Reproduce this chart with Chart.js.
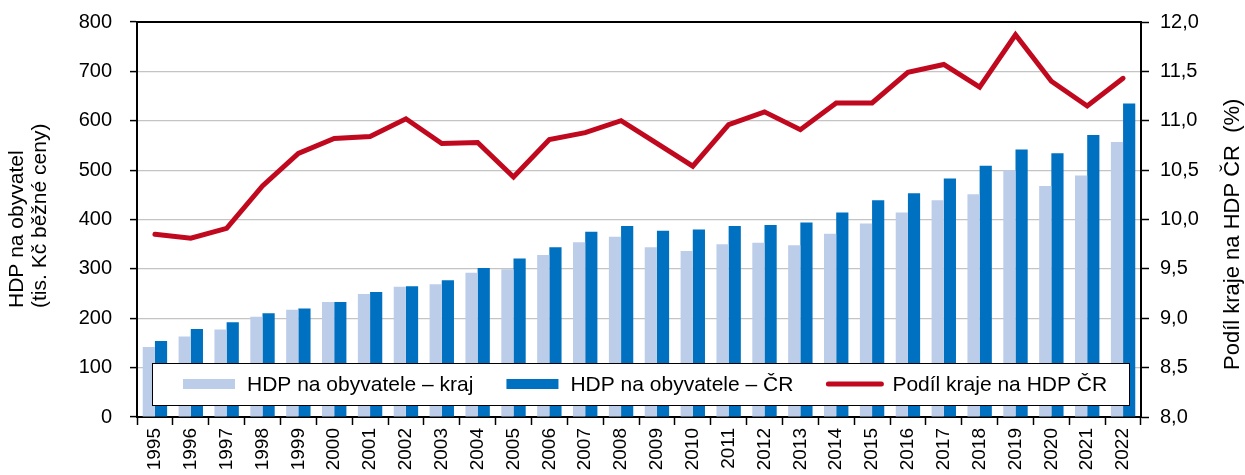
<!DOCTYPE html>
<html lang="cs">
<head>
<meta charset="utf-8">
<script src="https://cdn.jsdelivr.net/npm/chart.js@4.4.1/dist/chart.umd.min.js"></script>
<style>
  html, body { margin: 0; padding: 0; background: #fff; }
  #wrap { width: 1245px; height: 475px; }
</style>
</head>
<body>
<div id="wrap"><canvas id="chart" width="1245" height="475"></canvas></div>
<script>
const years = ['1995','1996','1997','1998','1999','2000','2001','2002','2003','2004',
  '2005','2006','2007','2008','2009','2010','2011','2012','2013','2014',
  '2015','2016','2017','2018','2019','2020','2021','2022'];

// HDP na obyvatele (tis. Kč, běžné ceny)
const hdpKraj = [142, 163, 177, 203, 217, 233, 249, 264, 269, 292,
  299, 328, 354, 365, 344, 336, 350, 353, 348, 371,
  392, 414, 439, 451, 500, 468, 489, 557];
const hdpCR = [154, 178, 192, 210, 220, 233, 253, 265, 277, 302,
  321, 344, 375, 387, 377, 380, 387, 389, 394, 414,
  439, 453, 483, 509, 542, 534, 571, 635];

// podíl kraje na HDP ČR (%)
const podil = [9.85, 9.81, 9.91, 10.34, 10.67, 10.82, 10.84, 11.02, 10.77, 10.78,
  10.43, 10.81, 10.88, 11.00, 10.77, 10.54, 10.96, 11.09, 10.91, 11.18,
  11.18, 11.49, 11.57, 11.34, 11.87, 11.40, 11.15, 11.43];

const leftTitle = ['HDP na obyvatel', '(tis. Kč běžné ceny)'];
const rightTitle = 'Podíl kraje na HDP ČR  (%)';

const FONT = '"Liberation Sans", Arial, sans-serif';
const LIGHT = '#bccde9';
const BLUE = '#0070c0';
const RED = '#c0091e';

// top frame line, axis titles and the legend box inside the plot area
const boxPlugin = {
  id: 'boxPlugin',
  afterDraw(chart) {
    const ctx = chart.ctx;
    const a = chart.chartArea;
    ctx.save();
    ctx.strokeStyle = '#000';
    ctx.lineWidth = 2;
    ctx.beginPath();
    ctx.moveTo(a.left, a.top);
    ctx.lineTo(a.right, a.top);
    ctx.stroke();

    // axis titles, read bottom to top, start aligned
    ctx.fillStyle = '#000';
    ctx.textBaseline = 'middle';
    ctx.textAlign = 'left';
    ctx.font = '21px ' + FONT;
    leftTitle.forEach((t, i) => {
      ctx.save();
      ctx.translate(17 + i * 23, 308);
      ctx.rotate(-Math.PI / 2);
      ctx.fillText(t, 0, 0);
      ctx.restore();
    });
    ctx.font = '22px ' + FONT;
    ctx.save();
    ctx.translate(1233, 370);
    ctx.rotate(-Math.PI / 2);
    ctx.fillText(rightTitle, 0, 0);
    ctx.restore();

    // legend
    const bx = a.left + 15, by = a.bottom - 54, bw = a.right - 12 - bx, bh = 42;
    ctx.fillStyle = '#fff';
    ctx.fillRect(bx, by, bw, bh);
    ctx.lineWidth = 1;
    ctx.strokeStyle = '#000';
    ctx.strokeRect(bx + 0.5, by + 0.5, bw, bh);

    ctx.font = '21px ' + FONT;
    const cy = by + bh / 2;
    let x = bx + 31;
    chart.data.datasets.forEach(ds => {
      if (ds.type === 'line') {
        ctx.strokeStyle = ds.borderColor;
        ctx.lineWidth = 5;
        ctx.lineCap = 'round';
        ctx.beginPath();
        ctx.moveTo(x + 2, cy);
        ctx.lineTo(x + 55, cy);
        ctx.stroke();
        x += 66;
      } else {
        ctx.fillStyle = ds.backgroundColor;
        ctx.fillRect(x, cy - 5, 52, 10);
        x += 64;
      }
      ctx.fillStyle = '#000';
      ctx.fillText(ds.label, x, cy + 1);
      x += ctx.measureText(ds.label).width + 33;
    });
    ctx.restore();
  }
};

function noVPad(s) {
  s.paddingTop = 0;
  s.paddingBottom = 0;
}

new Chart(document.getElementById('chart'), {
  type: 'bar',
  data: {
    labels: years,
    datasets: [
      {
        label: 'HDP na obyvatele – kraj',
        data: hdpKraj,
        backgroundColor: LIGHT,
        yAxisID: 'y',
        order: 1
      },
      {
        label: 'HDP na obyvatele – ČR',
        data: hdpCR,
        backgroundColor: BLUE,
        yAxisID: 'y',
        order: 1
      },
      {
        type: 'line',
        label: 'Podíl kraje na HDP ČR',
        data: podil,
        yAxisID: 'y2',
        borderColor: RED,
        backgroundColor: RED,
        borderWidth: 5,
        borderCapStyle: 'round',
        pointRadius: 0,
        tension: 0,
        order: 0
      }
    ]
  },
  options: {
    responsive: false,
    animation: false,
    layout: { padding: { top: 22, left: 0, right: 0, bottom: 0 } },
    datasets: {
      bar: { barPercentage: 1, categoryPercentage: 0.68, borderWidth: 0 }
    },
    plugins: {
      legend: { display: false },
      tooltip: { enabled: false }
    },
    scales: {
      x: {
        grid: { display: true, drawOnChartArea: false, offset: true, tickColor: '#000', tickLength: 8, tickWidth: 1.5 },
        border: { color: '#000', width: 2 },
        ticks: {
          autoSkip: false, minRotation: 90, maxRotation: 90, padding: 3,
          color: '#000', font: { family: FONT, size: 19 }
        },
        afterFit(s) { s.height = 58; }
      },
      y: {
        position: 'left',
        min: 0, max: 800,
        ticks: { stepSize: 100, padding: 18, color: '#000', font: { family: FONT, size: 20 } },
        grid: { color: '#c4c4c4', lineWidth: 1.2, tickColor: '#000', tickLength: 7, tickWidth: 1.5 },
        border: { color: '#000', width: 2 },
        afterFit(s) { s.width = 137; noVPad(s); }
      },
      y2: {
        position: 'right',
        min: 8, max: 12,
        ticks: {
          stepSize: 0.5, padding: 11, color: '#000', font: { family: FONT, size: 20 },
          callback: v => v.toFixed(1).replace('.', ',')
        },
        grid: { drawOnChartArea: false, tickColor: '#000', tickLength: 8, tickWidth: 1.5 },
        border: { color: '#000', width: 2 },
        afterFit(s) { s.width = 104; noVPad(s); }
      }
    }
  },
  plugins: [boxPlugin]
});
</script>
</body>
</html>
